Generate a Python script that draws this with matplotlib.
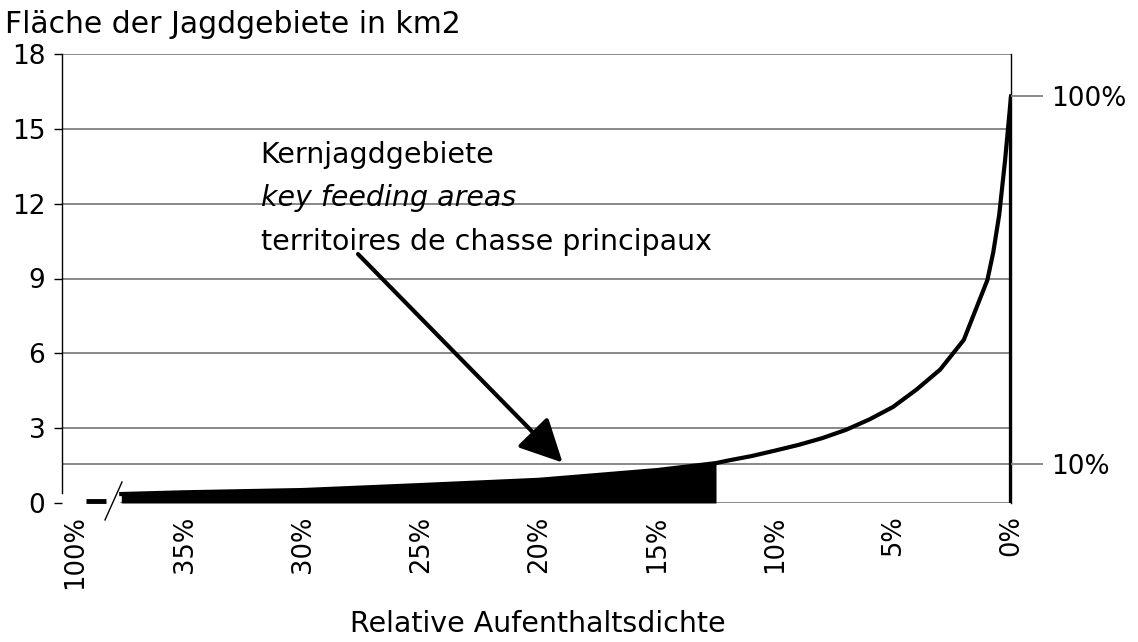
import numpy as np
import matplotlib
matplotlib.use('Agg')
from matplotlib import pyplot as plt

plt.rcParams['font.family'] = ['DejaVu Sans']

# relative density (%) vs. hunting area (km2)
pct = [0, 0.25, 0.5, 0.75, 1, 2, 3, 4, 5, 6, 7, 8, 9, 10, 11, 12, 12.5, 15, 20, 25, 30, 35, 37.7]
area = [16.3, 13.75, 11.55, 10.06, 8.94, 6.54, 5.35, 4.55, 3.85, 3.35, 2.93, 2.6, 2.33, 2.1,
        1.88, 1.7, 1.6, 1.32, 0.93, 0.72, 0.52, 0.43, 0.36]
core_limit = 12.5  # key feeding areas: from here leftwards

xtick_pos = [39.66, 35, 30, 25, 20, 15, 10, 5, 0]
xtick_lab = ['100%', '35%', '30%', '25%', '20%', '15%', '10%', '5%', '0%']
yticks = [0, 3, 6, 9, 12, 15, 18]
right_pos = [1.56, 16.3]
right_lab = ['10%', '100%']

annot_lines = ['Kernjagdgebiete', 'key feeding areas', 'territoires de chasse principaux']

W, H = 1138, 642
fig = plt.figure(figsize=(W / 100, H / 100), dpi=100)
ax = fig.add_axes([62 / W, 1 - 503 / H, (1011 - 62) / W, (503 - 54) / H])

x0 = (1011 - 62) / 23.6
ax.set_xlim(x0, 0)
ax.set_ylim(0, 18)

grey = '#7f7f7f'
ax.set_yticks(yticks)
ax.yaxis.grid(True, color=grey, lw=1.3)
ax.yaxis.get_major_ticks()[0].gridline.set_visible(False)
ax.yaxis.get_major_ticks()[0].tick1line.set_visible(False)
ax.tick_params(axis='y', direction='out', length=6, width=1, labelsize=19, pad=6)
ax.set_xticks(xtick_pos, xtick_lab, rotation=90)
ax.tick_params(axis='x', length=0, labelsize=18.5, pad=9)
ax.set_axisbelow(True)

for s in ['top', 'bottom']:
    ax.spines[s].set_visible(False)
ax.spines['left'].set_bounds(0.4, 18)
ax.spines['left'].set_linewidth(1)
ax.spines['right'].set_linewidth(1)

# extra guide lines
ax.axhline(right_pos[0], color=grey, lw=1.3, zorder=1)
ax.plot([pct[-1], 0], [0, 0], color=grey, lw=1.3, zorder=1)

# curve + filled core area
p = np.array(pct)
a = np.array(area)
m = p >= core_limit
ax.fill_between(p[m], 0, a[m], color='black', lw=0, zorder=3)
ax.plot(p, a, color='black', lw=3, solid_joinstyle='miter', zorder=4)
ax.plot([0, 0], [0, area[0]], color='black', lw=3.8, solid_capstyle='butt', zorder=4)

# axis break marks
ax.plot([39.2, 38.35], [0.1, 0.1], color='black', lw=3.5, solid_capstyle='butt', clip_on=False)
ax.plot([38.39, 37.67], [-0.68, 0.84], color='black', lw=1, clip_on=False)

# right-hand percentage ticks
ax2 = ax.twinx()
ax2.set_ylim(0, 18)
ax2.set_yticks(right_pos, right_lab)
ax2.tick_params(axis='y', length=23, width=1.3, color=grey, labelsize=19, pad=6)
for s in ['top', 'bottom', 'left', 'right']:
    ax2.spines[s].set_visible(False)

# annotation
ty = [13.63, 11.91, 10.14]
for i, t in enumerate(annot_lines):
    ax.text(31.8, ty[i], t, fontsize=20.5, va='baseline', ha='left',
            style='italic' if i == 1 else 'normal', zorder=5)
ax.annotate('', xy=(19.0, 1.62), xytext=(27.67, 9.98),
            arrowprops=dict(arrowstyle='-|>,head_length=1.2,head_width=0.6', color='black',
                            lw=3, mutation_scale=22, shrinkA=0, shrinkB=0), zorder=5)

fig.text(5 / W, 1 - 33 / H, 'Fläche der Jagdgebiete in km2', fontsize=21.5, va='baseline', ha='left')
fig.text(538 / W, 1 - 632 / H, 'Relative Aufenthaltsdichte', fontsize=20.5, va='baseline', ha='center')

fig.savefig('out.png', dpi=100)
